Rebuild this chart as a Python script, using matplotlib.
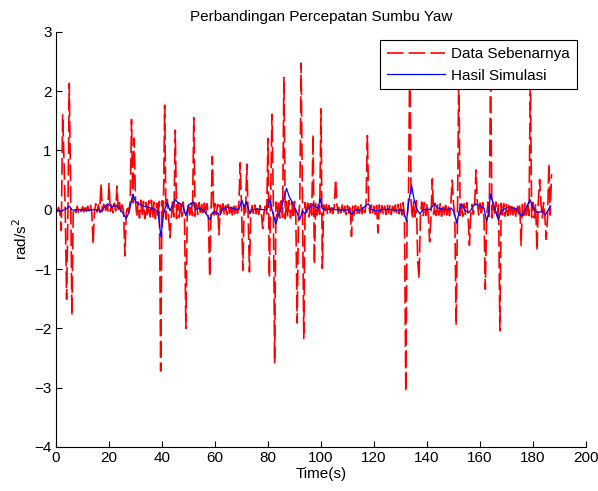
import numpy as np
import matplotlib
matplotlib.use('Agg')
import matplotlib.pyplot as plt

plt.rcParams['font.family'] = ['Liberation Sans', 'DejaVu Sans']
plt.rcParams['font.size'] = 11

# measured acceleration, sampled every 0.5 s (baseline noise, in 1/100 rad/s^2)
dt_red = 0.5
red_base_x100 = [
    2, -3, 4, -5, 3, -2, 5, -4, 6, -3, 4, -6, 5, -2, 3, -5, 6, -4, 2, -3,
    5, -4, 8, -3, 6, -2, 9, -5, 7, -3, 10, -4, 8, -2, 12, -3, 9, -4, 7, -2,
    10, -3, 8, -5, 11, -2, 9, -4, 12, -6, 8, -3, 10, -8, 7, -5, 14, -9, 12, -10,
    15, -12, 13, -14, 16, -11, 14, -15, 12, -13, 15, -12, 16, -14, 13, -15, 11, -12, 14, -16,
    15, -13, 12, -16, 17, -14, 13, -15, 16, -12, 14, -15, 12, -13, 15, -11, 13, -14, 10, -12,
    11, -9, 12, -10, 8, -11, 10, -8, 12, -9, 9, -10, 11, -8, 10, -12, 9, -7, 11, -9,
    10, -8, 9, -11, 8, -7, 10, -9, 7, -8, 9, -6, 8, -9, 10, -7, 8, -6, 9, -8,
    8, -6, 7, -9, 6, -8, 9, -5, 7, -6, 8, -7, 5, -8, 7, -6, 9, -5, 6, -7,
    12, -10, 15, -13, 14, -16, 13, -12, 16, -14, 15, -13, 17, -15, 14, -12, 16, -14, 13, -15,
    14, -12, 15, -13, 12, -14, 13, -11, 12, -10, 11, -12, 10, -9, 12, -8, 10, -9, 11, -8,
    9, -7, 8, -6, 9, -8, 7, -5, 8, -7, 6, -8, 9, -6, 7, -5, 8, -7, 6, -8,
    7, -6, 8, -5, 6, -9, 7, -8, 5, -6, 8, -7, 6, -5, 9, -7, 7, -6, 8, -5,
    6, -8, 7, -6, 8, -5, 7, -7, 6, -8, 9, -6, 7, -8, 6, -7, 8, -5, 9, -7,
    10, -9, 12, -14, 15, -12, 16, -15, 13, -16, 14, -12, 15, -13, 12, -14, 13, -11, 12, -10,
    11, -9, 10, -12, 9, -8, 11, -10, 8, -9, 10, -11, 9, -8, 12, -9, 8, -10, 11, -7,
    10, -12, 11, -9, 12, -10, 9, -11, 10, -8, 12, -9, 11, -10, 9, -8, 10, -11, 12, -9,
    11, -10, 12, -13, 14, -11, 13, -12, 11, -14, 12, -10, 13, -11, 10, -12, 11, -9, 10, -11,
    9, -10, 11, -8, 10, -9, 8, -11, 9, -7, 10, -8, 9, -10, 11, -9, 12, -10, 11, -13,
    12, -14, 10, -15, 13, -12, 11, -14, 12, -13, 10, -12, 11, -9, 8,
]

# spikes in the measured data (time s, value rad/s^2)
spike_t = [2.0, 2.5, 3.0, 4.0, 5.0, 5.5, 6.0, 14.0, 17.0, 20.0, 23.0, 26.0,
           28.5, 29.5, 39.5, 41.0, 43.0, 45.0, 49.0, 52.0, 58.0, 59.0, 61.5,
           69.5, 70.5, 72.0, 73.0, 78.0, 80.0, 80.5, 81.5, 82.5, 86.0, 91.0,
           92.5, 93.5, 97.0, 97.5, 100.0, 100.5, 105.5, 111.5, 117.5, 121.5,
           132.0, 133.5, 136.5, 137.0, 141.0, 142.0, 149.5, 151.0, 152.0,
           156.0, 158.5, 162.0, 164.0, 167.5, 175.5, 179.0, 181.5, 182.5,
           185.0, 186.0, 187.0]
spike_v = [-0.35, 1.60, 0.85, -1.51, 2.13, 0.44, -1.78, -0.58, 0.44, 0.44, 0.40, -0.78,
           1.52, 1.20, -2.72, 1.76, -0.47, 1.34, -2.00, 1.55, -1.13, 0.90, -0.42,
           0.79, -1.02, 0.77, -1.05, -0.32, 1.20, -1.14, 1.61, -2.59, 2.23, -1.91,
           2.47, -2.17, 1.27, -0.92, 1.70, -0.99, 0.51, -0.45, 1.25, -0.39,
           -3.07, 2.60, -0.87, -1.16, -0.54, 0.52, 0.50, -1.95, 2.40,
           -0.60, 0.67, -1.34, 2.50, -2.04, -0.60, 2.30, -0.69, 0.51,
           -0.50, 0.78, 0.60]

# simulation result
blue_t = [0, 1, 2, 3, 4, 5, 6, 7, 8, 10, 12, 14, 16, 16.7, 18, 19.5, 21, 22.6, 24, 25,
          26.5, 27.5, 29, 30, 31, 33, 35, 37, 38.5, 39.6, 40.5, 41, 42, 43, 44, 45, 46, 47,
          48, 49, 50, 51.8, 52.7, 54, 56, 58.1, 59, 60, 61.9, 63, 65, 67, 69, 70.1, 71,
          71.9, 73.2, 74, 76, 78, 79.5, 80.7, 81.5, 83, 84, 85.1, 86, 87, 88, 89.5, 91,
          92, 93, 93.9, 95, 97, 99, 99.6, 100.5, 102, 104, 106, 108, 110, 111.6, 113, 115,
          117.9, 119, 121, 123, 125, 127, 129, 131, 132.3, 133, 134.2, 135, 136, 137.3,
          138.5, 140, 141, 142.9, 144, 146, 147.4, 149, 150, 151.3, 152, 153, 154.5, 156,
          158.1, 160, 161.5, 162.5, 163.2, 164, 165, 166.9, 168, 170, 171.3, 173.8, 175.7,
          177, 178.9, 180, 181, 182.1, 183.5, 184.6, 185.8, 186.5]
blue_v = [0.00, -0.02, -0.03, 0.00, 0.02, 0.06, 0.00, -0.01, 0.00, 0.00, -0.01, 0.00, 0.00,
          -0.05, 0.03, 0.10, 0.04, 0.08, 0.02, -0.04,
          -0.15, -0.05, 0.26, 0.14, 0.10, 0.06, 0.04, 0.01, -0.04, -0.46, -0.10, 0.00, 0.12,
          -0.02, 0.08, 0.17, 0.12, 0.10,
          0.05, -0.10, 0.08, 0.13, 0.00, 0.02, -0.02, -0.17, -0.05, -0.03, -0.09, 0.02, 0.04,
          0.02, 0.00, 0.16, 0.05,
          0.13, -0.07, 0.00, 0.01, 0.00, 0.00, 0.18, 0.00, -0.24, -0.08, 0.03, 0.20, 0.36,
          0.22, 0.10, -0.05,
          -0.17, -0.02, -0.07, 0.02, 0.08, 0.02, 0.19, 0.02, 0.00, 0.01, 0.00, -0.01, 0.00,
          -0.07, -0.01, 0.00,
          0.10, 0.00, -0.02, 0.00, 0.01, 0.00, -0.01, 0.00, -0.20, 0.10, 0.41, 0.20, 0.02,
          -0.07,
          0.00, 0.01, 0.00, 0.10, 0.03, 0.01, 0.00, 0.03, -0.02, -0.23, -0.05, 0.10, -0.02,
          -0.04,
          0.10, 0.06, 0.03, -0.20, -0.05, 0.26, 0.10, -0.17, -0.02, 0.03, 0.04, 0.01, -0.11,
          0.00, 0.17, 0.05, -0.03, -0.05, -0.02, -0.09, 0.00, 0.06]

red_v = np.array(red_base_x100, dtype=float) / 100.0
red_t = np.arange(len(red_v)) * dt_red
for t, v in zip(spike_t, spike_v):
    red_v[int(round(t / dt_red))] = v

fig = plt.figure(figsize=(5.98, 4.91), dpi=100)
ax = fig.add_axes([56 / 598, 44 / 491, 530 / 598, 415.3 / 491])

ax.plot(red_t, red_v, color='#ff0000', lw=1.2, dashes=(10, 3), label='Data Sebenarnya')
ax.plot(blue_t, blue_v, color='#0000ff', lw=0.9, label='Hasil Simulasi')

ax.set_xlim(0, 200)
ax.set_ylim(-4, 3)
ax.set_xticks(np.arange(0, 201, 20))
ax.set_yticks(np.arange(-4, 4, 1))
ax.spines['top'].set_visible(False)
ax.spines['right'].set_visible(False)
ax.tick_params(direction='in', length=4, width=0.8, labelsize=11, pad=3)

ax.set_title('Perbandingan Percepatan Sumbu Yaw', fontsize=11, pad=8)
ax.set_xlabel('Time(s)', fontsize=11, labelpad=1)
ax.set_ylabel('rad/s$^2$', fontsize=11, labelpad=3)

leg = ax.legend(loc='upper right', bbox_to_anchor=(0.983, 0.98), borderaxespad=0,
                fancybox=False, edgecolor='black', framealpha=1, fontsize=11,
                handlelength=3.8, handletextpad=0.4, borderpad=0.45, labelspacing=0.5)
leg.get_frame().set_linewidth(0.8)

fig.savefig('out.png', dpi=100)
